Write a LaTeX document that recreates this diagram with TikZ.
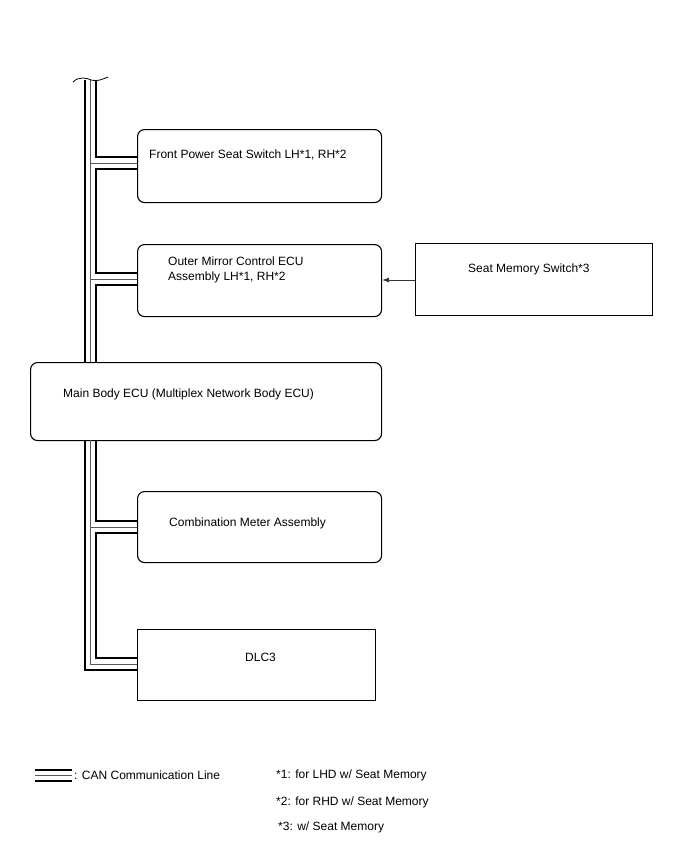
\documentclass[tikz,border=0pt]{standalone}
\usepackage{fontspec}
\setmainfont{Liberation Sans}
\usetikzlibrary{arrows.meta}
\begin{document}
\begin{tikzpicture}[x=1pt,y=-1pt,
  rbox/.style={draw=black,line width=1.1pt,rounded corners=7pt,inner sep=0pt,anchor=north west},
  sbox/.style={draw=black,line width=1.1pt,inner sep=0pt,anchor=north west},
  lbl/.style={anchor=west,inner sep=0pt,font=\fontsize{12}{15}\selectfont,align=left},
  busk/.style={line width=2pt,black},
  busg/.style={line width=0.9pt,black!65},
  arr/.style={line width=0.8pt,black!80,-{Latex[length=7pt,width=5pt]}}]
\useasboundingbox (0,0) rectangle (688,852);
% boxes
\node[rbox,minimum width=244pt,minimum height=73pt] (fps) at (137,129) {};
\node[rbox,minimum width=244pt,minimum height=72pt] (omc) at (137,244) {};
\node[rbox,minimum width=351pt,minimum height=78pt] (mbe) at (30,362) {};
\node[rbox,minimum width=244pt,minimum height=71pt] (cma) at (137,491) {};
\node[sbox,minimum width=238pt,minimum height=71pt] (dlc) at (137,629) {};
\node[sbox,minimum width=237pt,minimum height=72pt] (sms) at (415,243) {};
% texts
\node[lbl] (tfps) at (149,155) {Front Power Seat Switch LH*1, RH*2};
\node[lbl] (tomc) at (168,269.5) {Outer Mirror Control ECU\\Assembly LH*1, RH*2};
\node[lbl] (tmbe) at (63,394) {Main Body ECU (Multiplex Network Body ECU)};
\node[lbl] (tcma) at (169,523) {Combination Meter Assembly};
\node[lbl] (tdlc) at (245,657) {DLC3};
\node[lbl] (tsms) at (468,269) {Seat Memory Switch*3};
% arrow
\draw[arr] (sms.west |- 0,280) -- (omc.east |- 0,280);
% upper bus
\draw[busk] (85,80) -- (85,362);
\draw[busg] (90.5,80) -- (90.5,362);
\draw[busg] (90.5,163) -- (fps.west |- 0,163);
\draw[busg] (90.5,279) -- (omc.west |- 0,279);
\draw[busk] (96,80) -- (96,157) -- (fps.west |- 0,157);
\draw[busk] (fps.west |- 0,169) -- (96,169) -- (96,273) -- (omc.west |- 0,273);
\draw[busk] (omc.west |- 0,285) -- (96,285) -- (96,362);
% lower bus
\draw[busk] (85,440) -- (85,670) -- (dlc.west |- 0,670);
\draw[busg] (90.5,440) -- (90.5,664) -- (dlc.west |- 0,664);
\draw[busg] (90.5,527) -- (cma.west |- 0,527);
\draw[busk] (96,440) -- (96,521) -- (cma.west |- 0,521);
\draw[busk] (cma.west |- 0,533) -- (96,533) -- (96,658) -- (dlc.west |- 0,658);
% break mark
\draw[line width=0.8pt] (73,82) .. controls (79,76) and (87,78) .. (91,80) .. controls (97,82) and (103,79) .. (108,77);
% legend
\draw[busk] (35,770) -- (72,770);
\draw[busg] (35,775) -- (72,775);
\draw[busk] (35,781) -- (72,781);
\node[lbl] (tleg) at (74,775.5) {: CAN Communication Line};
\node[lbl] (n1) at (276,775.5) {*1: for LHD w/ Seat Memory};
\node[lbl] (n2) at (276,802) {*2: for RHD w/ Seat Memory};
\node[lbl] (n3) at (278,827) {*3: w/ Seat Memory};
\end{tikzpicture}
\end{document}
